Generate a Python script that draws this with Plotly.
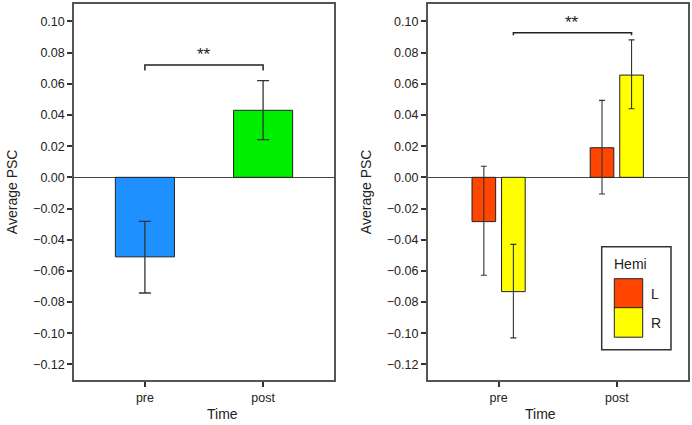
import plotly.graph_objects as go

# ---- data ----
times = ["pre", "post"]

overall_mean = [-0.051, 0.043]
overall_err_hi = [-0.0282, 0.062]
overall_err_lo = [-0.0742, 0.0242]
overall_colors = ["#1E90FF", "#00EE00"]

hemis = ["L", "R"]
hemi_colors = ["#FF4500", "#FFFF00"]
hemi_mean = {"L": [-0.0284, 0.019], "R": [-0.0733, 0.0656]}
hemi_err_hi = {"L": [0.0071, 0.0494], "R": [-0.043, 0.0882]}
hemi_err_lo = {"L": [-0.0628, -0.0107], "R": [-0.103, 0.044]}

y_ticks = [0.10, 0.08, 0.06, 0.04, 0.02, 0.00, -0.02, -0.04, -0.06, -0.08, -0.10, -0.12]
y_range = [-0.130, 0.111]

# significance brackets: (x start, x end, y, tip depth)
left_bracket = (0, 1, 0.072, 0.0034)
right_bracket = (0.125, 1.125, 0.0927, 0.0016)
sig_label = "**"

FONT = "Liberation Sans, Arial, sans-serif"
AX = "#555555"

W, H = 692, 425


def xp(px):
    return px / W


def yp(py):
    return 1 - py / H


fig = go.Figure()

# left panel
fig.add_trace(go.Bar(
    x=[0, 1], y=overall_mean, width=0.5,
    marker=dict(color=overall_colors, line=dict(color="#222", width=1)),
    error_y=dict(type="data", symmetric=False,
                 array=[h - m for h, m in zip(overall_err_hi, overall_mean)],
                 arrayminus=[m - l for l, m in zip(overall_err_lo, overall_mean)],
                 color="#333", thickness=1.3, width=6),
    xaxis="x", yaxis="y", showlegend=False, hoverinfo="skip"))

# right panel
offsets = {"L": -0.225, "R": 0.025}
for h, c in zip(hemis, hemi_colors):
    m = hemi_mean[h]
    fig.add_trace(go.Bar(
        x=[0, 1], y=m, width=0.2, offset=offsets[h],
        marker=dict(color=c, line=dict(color="#222", width=1)),
        error_y=dict(type="data", symmetric=False,
                     array=[a - b for a, b in zip(hemi_err_hi[h], m)],
                     arrayminus=[b - a for a, b in zip(hemi_err_lo[h], m)],
                     color="#333", thickness=1.1, width=3),
        xaxis="x2", yaxis="y2", name=h, showlegend=False, hoverinfo="skip"))

ydom = [yp(380), yp(4.3)]
axis_common = dict(showline=True, mirror=True, linecolor=AX, linewidth=1.5,
                   ticks="outside", ticklen=5, tickwidth=2, tickcolor="#333",
                   showgrid=False, tickfont=dict(family=FONT, size=12.5, color="#222"))
xcommon = dict(axis_common, range=[-0.6, 1.6], tickvals=[0, 1], ticktext=times,
               zeroline=False)
ycommon = dict(axis_common, range=y_range, tickvals=y_ticks, tickformat=".2f",
               zeroline=True, zerolinecolor="#444", zerolinewidth=1)

fig.update_layout(
    width=W, height=H,
    margin=dict(l=0, r=0, t=0, b=0),
    paper_bgcolor="white", plot_bgcolor="white",
    barmode="overlay",
    xaxis=dict(xcommon, domain=[xp(74), xp(334)], anchor="y"),
    yaxis=dict(ycommon, domain=ydom, anchor="x"),
    xaxis2=dict(xcommon, domain=[xp(427.7), xp(687.7)], anchor="y2"),
    yaxis2=dict(ycommon, domain=ydom, anchor="x2"),
)

shapes = []
annots = []
for (x0, x1, y, d), xr, yr in [(left_bracket, "x", "y"), (right_bracket, "x2", "y2")]:
    shapes.append(dict(type="path", xref=xr, yref=yr,
                       path=f"M {x0},{y - d} L {x0},{y} L {x1},{y} L {x1},{y - d}",
                       line=dict(color="#222", width=1.5)))
    annots.append(dict(x=(x0 + x1) / 2, y=y, xref=xr, yref=yr, text=sig_label,
                       showarrow=False, yanchor="bottom", yshift=-1,
                       font=dict(family=FONT, size=17, color="#222")))

# axis titles
for xc in [12, 366]:
    annots.append(dict(x=xp(xc), y=(ydom[0] + ydom[1]) / 2, xref="paper", yref="paper",
                       text="Average PSC", textangle=-90, showarrow=False,
                       xanchor="center", yanchor="middle",
                       font=dict(family=FONT, size=14, color="#222")))
for xc in [205, 558]:
    annots.append(dict(x=xp(xc), y=yp(414), xref="paper", yref="paper",
                       text="Time", showarrow=False, yanchor="middle",
                       font=dict(family=FONT, size=14, color="#222")))

# legend box (manual)
shapes.append(dict(type="rect", xref="paper", yref="paper",
                   x0=xp(601.7), x1=xp(671), y0=yp(349.7), y1=yp(246.7),
                   line=dict(color="#333", width=1.5), fillcolor="white"))
sw_tops = [278.7, 307.7]
for h, c, top in zip(hemis, hemi_colors, sw_tops):
    shapes.append(dict(type="rect", xref="paper", yref="paper",
                       x0=xp(614.3), x1=xp(642.7),
                       y0=yp(top + 29.5), y1=yp(top),
                       line=dict(color="#222", width=1), fillcolor=c))
    annots.append(dict(x=xp(649), y=yp(top + 15), xref="paper", yref="paper",
                       text=h, showarrow=False, xanchor="left", yanchor="middle",
                       font=dict(family=FONT, size=14, color="#222")))
annots.append(dict(x=xp(612), y=yp(264), xref="paper", yref="paper",
                   text="Hemi", showarrow=False, xanchor="left", yanchor="middle",
                   font=dict(family=FONT, size=14, color="#222")))

fig.update_layout(shapes=shapes, annotations=annots)
fig.write_html("out.html", config={"displayModeBar": False},
               post_script="document.body.style.margin='0';")
